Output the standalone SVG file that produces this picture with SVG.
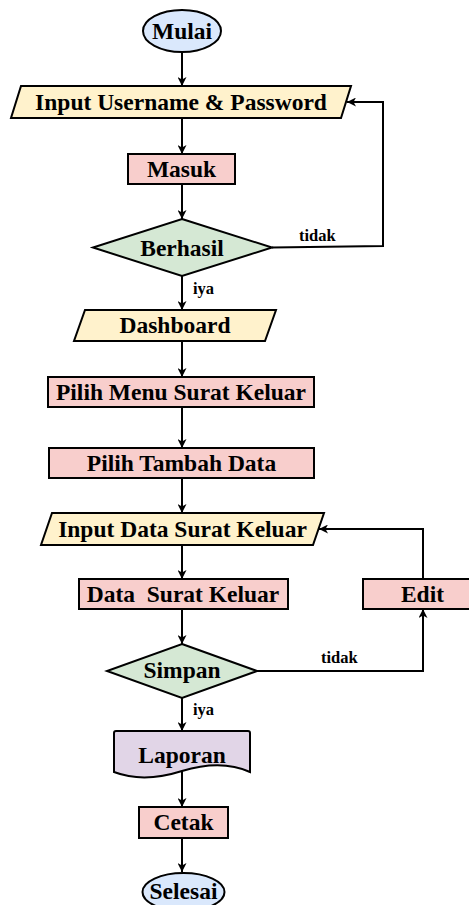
<svg xmlns="http://www.w3.org/2000/svg" width="469" height="905" viewBox="0 0 469 905">
<style>
.s{stroke:#000;stroke-width:2;}
.t{font-family:"Liberation Serif","Times New Roman",serif;font-weight:bold;font-size:23.5px;fill:#000;text-anchor:middle;}
.l{font-family:"Liberation Serif","Times New Roman",serif;font-weight:bold;font-size:16.5px;fill:#000;}
.c{fill:none;stroke:#000;stroke-width:2;}
.term{fill:#dae8fc;}
.io{fill:#fff2cc;}
.proc{fill:#f8cecc;}
.dec{fill:#d5e8d4;}
.doc{fill:#e1d5e7;}
</style>
<defs>
<marker id="arr" markerUnits="userSpaceOnUse" markerWidth="10" markerHeight="9" refX="9" refY="4.5" orient="auto">
<path d="M0,0 L9,4.5 L0,9 L2.5,4.5 Z" fill="#000"/>
</marker>
</defs>
<rect width="469" height="905" fill="#fff"/>
<g id="connectors">
<path class="c" d="M182,52 V86" marker-end="url(#arr)"/>
<path class="c" d="M182,118 V154" marker-end="url(#arr)"/>
<path class="c" d="M182,184 V219" marker-end="url(#arr)"/>
<path class="c" d="M272,247.5 L383,246 V102 H347" marker-end="url(#arr)"/>
<path class="c" d="M182,276 V310" marker-end="url(#arr)"/>
<path class="c" d="M182,341 V377" marker-end="url(#arr)"/>
<path class="c" d="M182,407 V448" marker-end="url(#arr)"/>
<path class="c" d="M182,478 V513" marker-end="url(#arr)"/>
<path class="c" d="M182,545 V579" marker-end="url(#arr)"/>
<path class="c" d="M182,609 V644" marker-end="url(#arr)"/>
<path class="c" d="M257,671 H423 V609" marker-end="url(#arr)"/>
<path class="c" d="M423,579 V529 H319" marker-end="url(#arr)"/>
<path class="c" d="M182,698 V731" marker-end="url(#arr)"/>
<path class="c" d="M182,771 V807" marker-end="url(#arr)"/>
<path class="c" d="M182,838 V872" marker-end="url(#arr)"/>
<text class="l" x="299" y="241">tidak</text>
<text class="l" x="193" y="294">iya</text>
<text class="l" x="321" y="663">tidak</text>
<text class="l" x="193" y="715">iya</text>
</g>
<g id="mulai">
<ellipse class="s term" cx="182" cy="31" rx="39" ry="21"/>
<text class="t" x="182" y="39">Mulai</text>
</g>
<g id="input-username">
<polygon class="s io" points="21,86 351,86 341,118 11,118"/>
<text class="t" x="181" y="110">Input Username &amp; Password</text>
</g>
<g id="masuk">
<rect class="s proc" x="128" y="154" width="107" height="30"/>
<text class="t" x="181.5" y="177">Masuk</text>
</g>
<g id="berhasil">
<polygon class="s dec" points="182,219 272,247.5 182,276 93,247.5"/>
<text class="t" x="182" y="256">Berhasil</text>
</g>
<g id="dashboard">
<polygon class="s io" points="85,310 276,310 265,341 74,341"/>
<text class="t" x="175" y="333">Dashboard</text>
</g>
<g id="pilih-menu">
<rect class="s proc" x="48" y="377" width="266" height="30"/>
<text class="t" x="181" y="400">Pilih Menu Surat Keluar</text>
</g>
<g id="pilih-tambah">
<rect class="s proc" x="49" y="448" width="265" height="30"/>
<text class="t" x="181.5" y="471">Pilih Tambah Data</text>
</g>
<g id="input-data">
<polygon class="s io" points="52,513 324,513 313,545 41,545"/>
<text class="t" x="182.5" y="537">Input Data Surat Keluar</text>
</g>
<g id="data-surat">
<rect class="s proc" x="79" y="579" width="209" height="30"/>
<text class="t" x="183" y="602" xml:space="preserve" style="white-space:pre">Data  Surat Keluar</text>
</g>
<g id="edit">
<rect class="s proc" x="363" y="579" width="120" height="30"/>
<text class="t" x="422.5" y="602">Edit</text>
</g>
<g id="simpan">
<polygon class="s dec" points="182,644 257,671 182,698 107,671"/>
<text class="t" x="182" y="678">Simpan</text>
</g>
<g id="laporan">
<path class="s doc" d="M114,733 Q114,731 116,731 H248 Q250,731 250,733 V772 C228,762 205,764 182,771 C160,778 135,780 114,772 Z"/>
<text class="t" x="182" y="763">Laporan</text>
</g>
<g id="cetak">
<rect class="s proc" x="139" y="807" width="89" height="31"/>
<text class="t" x="183.5" y="830">Cetak</text>
</g>
<g id="selesai">
<ellipse class="s term" cx="183.5" cy="892" rx="41" ry="19"/>
<text class="t" x="183.5" y="899">Selesai</text>
</g>
</svg>
